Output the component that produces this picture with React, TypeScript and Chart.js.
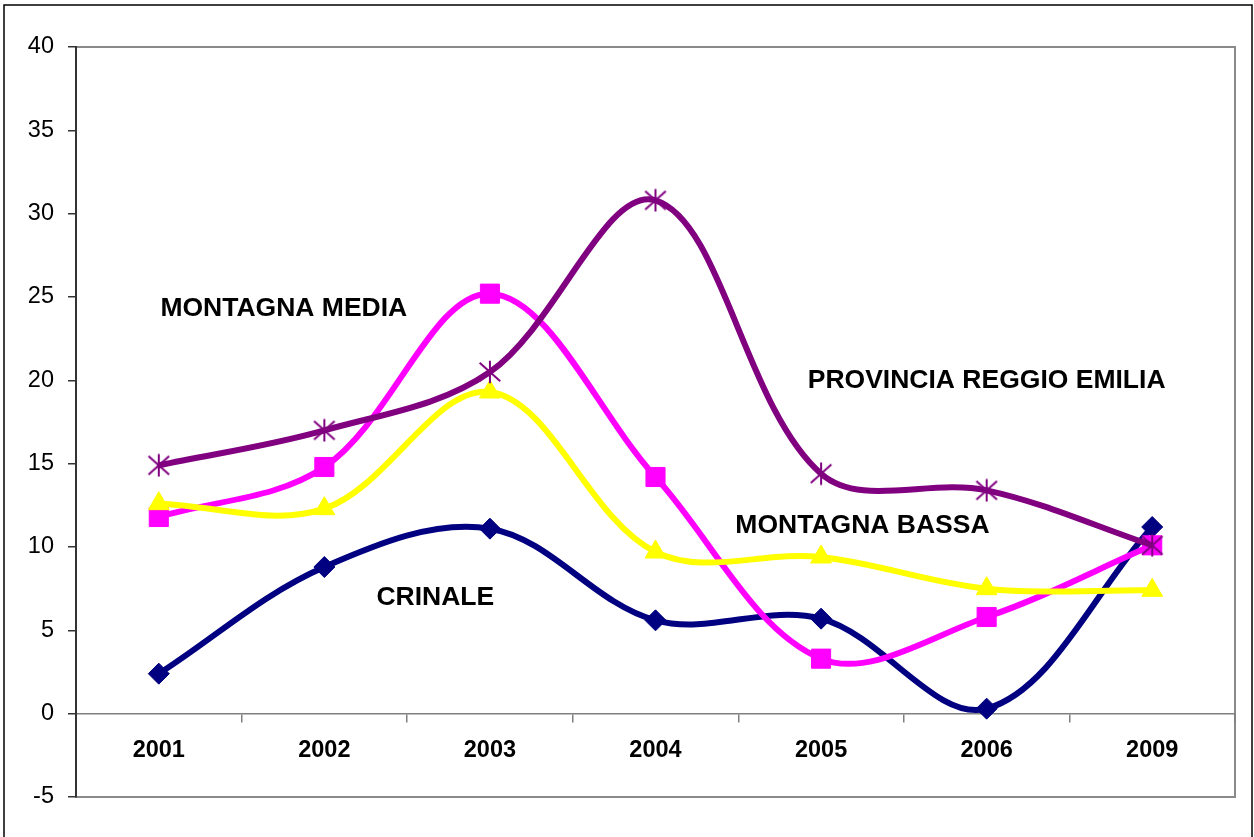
import React, { useEffect, useRef } from "react";
import { Chart, registerables } from "chart.js";

Chart.register(...registerables);

const categories = ["2001", "2002", "2003", "2004", "2005", "2006", "2009"];
const crinale = [2.4, 8.8, 11.1, 5.6, 5.7, 0.3, 11.2];
const montagnaMedia = [11.8, 14.8, 25.2, 14.2, 3.3, 5.8, 10.1];
const montagnaBassa = [12.6, 12.3, 19.3, 9.7, 9.4, 7.5, 7.4];
const provincia = [14.9, 17.0, 20.5, 30.8, 14.4, 13.4, 10.1];
const yTicks = { min: -5, max: 40, step: 5 };

const annotationTexts = ["MONTAGNA MEDIA", "PROVINCIA REGGIO EMILIA", "MONTAGNA BASSA", "CRINALE"];
const annotationX = [0.755, 5.0, 4.25, 1.67];
const annotationY = [24.3, 19.95, 11.3, 6.97];

const FONT = '"Liberation Sans", Arial, sans-serif';

function makeStar(color: string): HTMLCanvasElement {
  const c = document.createElement("canvas");
  c.width = 24;
  c.height = 24;
  const ctx = c.getContext("2d")!;
  ctx.strokeStyle = color;
  ctx.lineWidth = 2;
  ctx.beginPath();
  ctx.moveTo(12, 0.7);
  ctx.lineTo(12, 23.3);
  ctx.moveTo(1.7, 2.8);
  ctx.lineTo(22.3, 21.2);
  ctx.moveTo(1.7, 21.2);
  ctx.lineTo(22.3, 2.8);
  ctx.stroke();
  return c;
}

const framePlugin = {
  id: "frame",
  beforeDraw(chart: any) {
    const ctx = chart.ctx;
    ctx.save();
    ctx.fillStyle = "#ffffff";
    ctx.fillRect(0, 0, chart.width, chart.height);
    ctx.strokeStyle = "#000000";
    ctx.lineWidth = 1.5;
    ctx.strokeRect(4, 5, 1248, 845);
    const a = chart.chartArea;
    ctx.strokeStyle = "#8a8a8a";
    ctx.lineWidth = 2;
    ctx.strokeRect(a.left, a.top, a.right - a.left, a.bottom - a.top);
    ctx.restore();
  },
  afterDatasetsDraw(chart: any) {
    const ctx = chart.ctx;
    const xs = chart.scales.x;
    const ys = chart.scales.y;
    ctx.save();
    ctx.font = `700 26.5px ${FONT}`;
    ctx.fillStyle = "#000000";
    ctx.textAlign = "center";
    ctx.textBaseline = "middle";
    annotationTexts.forEach((t, i) => {
      ctx.fillText(t, xs.getPixelForValue(annotationX[i]), ys.getPixelForValue(annotationY[i]));
    });
    ctx.restore();
  },
};

export default function App() {
  const ref = useRef<HTMLCanvasElement>(null);
  useEffect(() => {
    if (!ref.current) return;
    const star = makeStar("#800080");
    const chart = new Chart(ref.current, {
      type: "line",
      data: {
        labels: categories,
        datasets: [
          {
            label: "PROVINCIA REGGIO EMILIA",
            data: provincia,
            borderColor: "#800080",
            backgroundColor: "#800080",
            borderWidth: 6,
            pointStyle: star as any,
            pointRadius: 11,
            order: 0,
          },
          {
            label: "MONTAGNA BASSA",
            data: montagnaBassa,
            borderColor: "#FFFF00",
            backgroundColor: "#FFFF00",
            borderWidth: 6,
            pointStyle: "triangle",
            pointRadius: 12,
            pointBorderWidth: 1,
            order: 1,
          },
          {
            label: "MONTAGNA MEDIA",
            data: montagnaMedia,
            borderColor: "#FF00FF",
            backgroundColor: "#FF00FF",
            borderWidth: 6,
            pointStyle: "rect",
            pointRadius: 13.5,
            pointBorderWidth: 1,
            order: 2,
          },
          {
            label: "CRINALE",
            data: crinale,
            borderColor: "#000080",
            backgroundColor: "#000080",
            borderWidth: 6,
            pointStyle: "rectRot",
            pointRadius: 10.5,
            pointBorderWidth: 1,
            order: 3,
          },
        ],
      },
      options: {
        responsive: false,
        animation: false,
        layout: { padding: { left: 0, top: 47, right: 19, bottom: 40 } },
        elements: { line: { tension: 0.35, fill: false } },
        plugins: { legend: { display: false }, tooltip: { enabled: false }, title: { display: false } },
        scales: {
          x: {
            type: "category",
            position: { y: 0 } as any,
            offset: true,
            grid: { offset: true, drawOnChartArea: false, drawTicks: true, tickLength: 8, color: "#808080", lineWidth: 1.5 },
            border: { display: true, color: "#808080", width: 1.5 },
            ticks: { color: "#000000", font: { family: FONT, size: 23.5, weight: "bold" }, padding: 15, maxRotation: 0 },
          },
          y: {
            min: yTicks.min,
            max: yTicks.max,
            grid: { drawOnChartArea: false, drawTicks: true, tickLength: 8, color: "#333333", lineWidth: 1.5 },
            border: { display: true, color: "#333333", width: 2 },
            ticks: { stepSize: yTicks.step, color: "#000000", font: { family: FONT, size: 23.5 }, padding: 14 },
            afterFit: (s: any) => {
              s.width = 76;
            },
          },
        },
      },
      plugins: [framePlugin],
    });
    return () => chart.destroy();
  }, []);
  return (
    <div style={{ position: "fixed", left: 0, top: 0, width: 1254, height: 837 }}>
      <canvas ref={ref} width={1254} height={837} style={{ display: "block" }} />
    </div>
  );
}
